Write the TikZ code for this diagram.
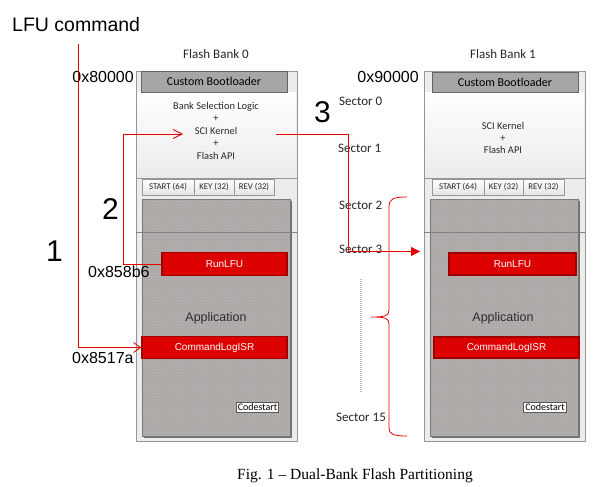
\documentclass[tikz,border=0pt]{standalone}
\usepackage{fontspec}
\setmainfont{Carlito}
\newfontfamily\arialf{Liberation Sans}
\newfontfamily\timesf{Liberation Serif}
\usetikzlibrary{arrows.meta,patterns}
\definecolor{lred}{RGB}{230,0,0}
\definecolor{boxred}{RGB}{220,0,0}
\definecolor{boxredb}{RGB}{160,0,0}
\definecolor{bootg}{RGB}{166,166,166}
\definecolor{bootb}{RGB}{100,100,100}
\definecolor{appg}{RGB}{172,169,167}
\definecolor{appdot}{RGB}{205,203,201}
\definecolor{appb}{RGB}{120,120,120}
\definecolor{shadowg}{RGB}{110,110,110}
\definecolor{bordg}{RGB}{150,150,150}
\definecolor{bankfill}{RGB}{236,236,236}
\definecolor{topbot}{RGB}{235,235,235}
\definecolor{keybot}{RGB}{228,228,228}
\definecolor{csb}{RGB}{90,90,90}
\definecolor{txtg}{RGB}{40,40,40}
\definecolor{apptxtg}{RGB}{45,45,45}
\definecolor{lineg}{RGB}{130,130,130}
\definecolor{dotg}{RGB}{185,185,185}
\tikzset{
  fs/.style={font=\fontsize{#1}{#1}\selectfont},
  bankbox/.style={draw=bordg, line width=0.8pt, fill=bankfill},
  topsec/.style={top color=white, bottom color=topbot, draw=none},
  bootbox/.style={draw=bootb, line width=0.9pt, fill=bootg},
  keybox/.style={draw=bordg, line width=0.6pt, top color=white, bottom color=keybot},
  appbox/.style={draw=appb, line width=0.8pt, fill=appg},
  redbox/.style={draw=boxredb, line width=1.6pt, fill=boxred, text=white, font=\arialf\fontsize{10}{10}\selectfont},
  csbox/.style={draw=csb, line width=0.6pt, fill=white, inner sep=1.5pt, font=\fontsize{10}{10}\selectfont},
  small/.style={font=\fontsize{10.4}{10.4}\selectfont, text=txtg, inner sep=0pt, anchor=base},
  keytxt/.style={font=\fontsize{8.8}{8.8}\selectfont, text=txtg},
  sect/.style={font=\fontsize{13}{13}\selectfont, text=txtg, inner sep=0pt, anchor=base west},
  addr/.style={font=\arialf\fontsize{16}{16}\selectfont, inner sep=0pt},
  big/.style={font=\arialf\fontsize{30}{30}\selectfont, inner sep=0pt, anchor=base},
  apptxt/.style={font=\arialf\fontsize{12.5}{12.5}\selectfont, text=apptxtg, inner sep=0pt, anchor=base},
  redline/.style={draw=lred, line width=0.8pt},
}
\begin{document}
\begin{tikzpicture}[x=1pt,y=-1pt]
\useasboundingbox[fill=white] (0,0) rectangle (597,487);

% ---------- Bank 0 ----------
\draw[bankbox] (136,71) rectangle (297,441);
\fill[topsec] (137,92) rectangle (296,178);
\draw[draw=bordg, line width=0.6pt] (136,178) -- (297,178);
\node[bootbox, minimum width=146pt, minimum height=21pt, inner sep=0pt, fs=12] (boot0) at (214,81.5) {Custom Bootloader};
\node[small] (l0a) at (216,109) {Bank Selection Logic};
\node[small] (l0b) at (216,121.5) {+};
\node[small] (l0c) at (216,134) {SCI Kernel};
\node[small] (l0d) at (216,146.5) {+};
\node[small] (l0e) at (216,159) {Flash API};
\node[keybox, keytxt, minimum width=52pt, minimum height=16pt, inner sep=0pt] (st0) at (168,187) {START (64)};
\node[keybox, keytxt, minimum width=40pt, minimum height=16pt, inner sep=0pt] (ky0) at (214,187) {KEY (32)};
\node[keybox, keytxt, minimum width=40pt, minimum height=16pt, inner sep=0pt] (rv0) at (254,187) {REV (32)};
\fill[shadowg] (144,201) rectangle (292,438);
\draw[appbox] (142,199) rectangle (290,436);
\fill[pattern=dots, pattern color=appdot] (142.5,199.5) rectangle (289.5,435.5);
\draw[draw=lineg, line width=0.7pt] (136,232) -- (297,232);
\node[redbox, minimum width=125pt, minimum height=23pt, inner sep=0pt] (run0) at (224.5,264) {RunLFU};
\node[redbox, minimum width=145pt, minimum height=22pt, inner sep=0pt] (cmd0) at (214.5,347.5) {CommandLogISR};
\node[apptxt] (app0) at (216,321) {Application};
\node[csbox] (cs0) at (257.5,407) {Codestart};

% ---------- Bank 1 ----------
\draw[bankbox] (424,71) rectangle (585,441);
\fill[topsec] (425,92) rectangle (584,178);
\draw[draw=bordg, line width=0.6pt] (424,178) -- (585,178);
\node[bootbox, minimum width=146pt, minimum height=20pt, inner sep=0pt, fs=12] (boot1) at (505,82) {Custom Bootloader};
\node[small] (l1c) at (503,129) {SCI Kernel};
\node[small] (l1d) at (503,141) {+};
\node[small] (l1e) at (503,153) {Flash API};
\node[keybox, keytxt, minimum width=52pt, minimum height=16pt, inner sep=0pt] (st1) at (458,187) {START (64)};
\node[keybox, keytxt, minimum width=39pt, minimum height=16pt, inner sep=0pt] (ky1) at (503.5,187) {KEY (32)};
\node[keybox, keytxt, minimum width=41pt, minimum height=16pt, inner sep=0pt] (rv1) at (543.5,187) {REV (32)};
\fill[shadowg] (432,201) rectangle (580,438);
\draw[appbox] (430,199) rectangle (578,436);
\fill[pattern=dots, pattern color=appdot] (430.5,199.5) rectangle (577.5,435.5);
\draw[draw=lineg, line width=0.7pt] (424,232) -- (585,232);
\node[redbox, minimum width=127pt, minimum height=22pt, inner sep=0pt] (run1) at (512.5,264) {RunLFU};
\node[redbox, minimum width=145pt, minimum height=21pt, inner sep=0pt] (cmd1) at (506.5,347.5) {CommandLogISR};
\node[apptxt] (app1) at (503,321) {Application};
\node[csbox] (cs1) at (545,407) {Codestart};

% ---------- labels ----------
\node[font=\arialf\fontsize{19.5}{19.5}\selectfont, inner sep=0pt, anchor=base west] (lfu) at (12,32) {LFU command};
\node[fs=13, inner sep=0pt, anchor=base, text=txtg] (fb0) at (216,59) {Flash Bank 0};
\node[fs=13, inner sep=0pt, anchor=base, text=txtg] (fb1) at (503,59) {Flash Bank 1};
\node[addr, anchor=base east] (a80) at (134,82) {0x80000};
\node[addr, anchor=base east] (a90) at (419,82) {0x90000};
\node[addr, anchor=base west] (a858) at (88,277) {0x858b6};
\node[addr, anchor=base west] (a851) at (72,363) {0x8517a};
\node[big] (n1) at (54.5,261) {1};
\node[big] (n2) at (110.5,219) {2};
\node[big] (n3) at (322.5,122) {3};
\node[sect] (s0) at (339,105) {Sector 0};
\node[sect] (s1) at (338,152) {Sector 1};
\node[sect] (s2) at (339,209) {Sector 2};
\node[sect] (s3) at (339,253) {Sector 3};
\node[sect] (s15) at (336,421) {Sector 15};
\draw[draw=dotg, line width=1.6pt, dash pattern=on 1pt off 1pt] (361,279) -- (361,393);
\node[font=\timesf\fontsize{15.5}{15.5}\selectfont, inner sep=0pt, anchor=base] (cap) at (355,479) {Fig. 1 – Dual-Bank Flash Partitioning};

% ---------- red brace ----------
\draw[redline] (407,197) .. controls (393,197) and (389,199) .. (389,207)
  -- (389,310) .. controls (389,316) and (385,317) .. (371,317)
  .. controls (385,317) and (389,318) .. (389,324)
  -- (389,428) .. controls (389,434) and (393,436) .. (407,436);

% ---------- red arrows ----------
\coordinate (c1a) at (78,44);
\coordinate (c2a) at (183,134);
\coordinate (c3a) at (276,134);
\coordinate (c3b) at (420,251.5);
\draw[redline, -{Straight Barb[length=7pt,width=10pt]}] (c1a) |- (cmd0.west);
\draw[redline, -{Straight Barb[length=9pt,width=9pt]}] (run0.west) -- (123,264) |- (c2a);
\draw[redline, -{Triangle[length=9pt,width=9pt]}] (c3a) -- (348,134) |- (c3b);
\end{tikzpicture}
\end{document}
